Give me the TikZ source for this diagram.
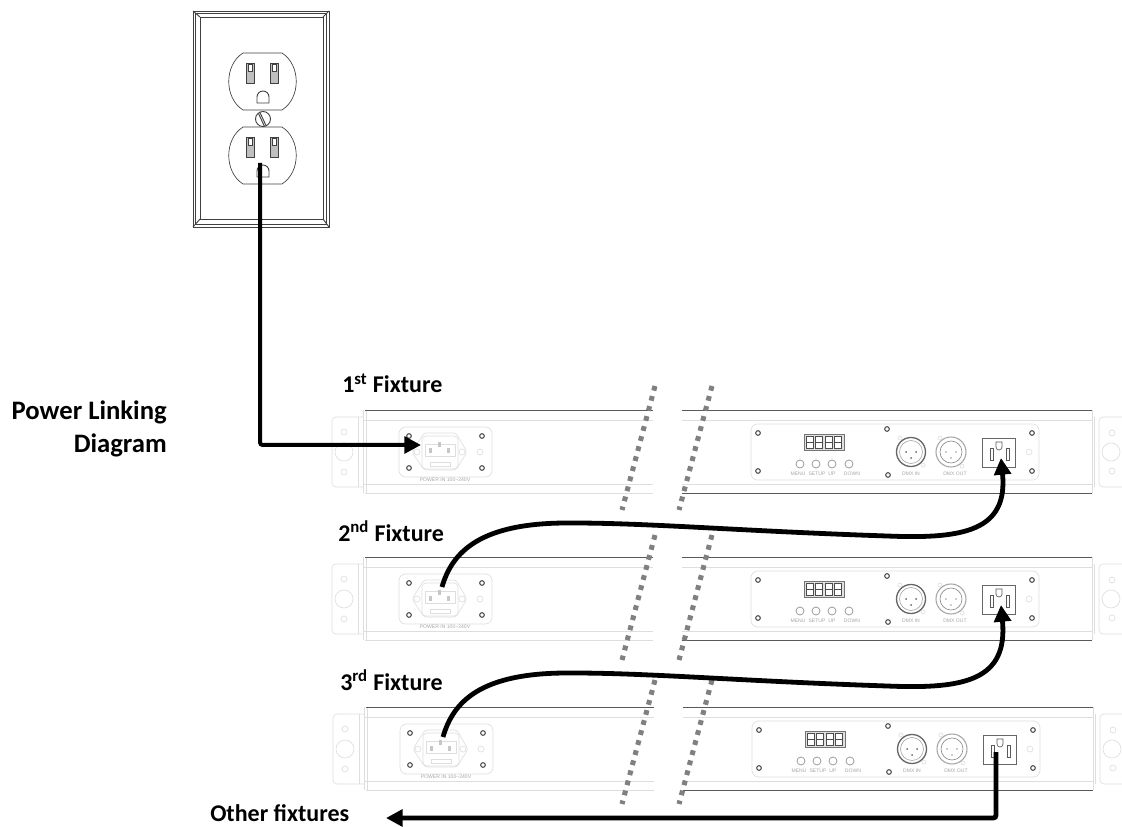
\documentclass[tikz,border=0pt]{standalone}
\usepackage{fontspec}
\setmainfont{Carlito}
\setsansfont{Liberation Sans}
\usetikzlibrary{arrows.meta}

\definecolor{faintgray}{gray}{0.87}
\definecolor{cutgray}{gray}{0.5}

\tikzset{
  title/.style={font=\bfseries\fontsize{20}{24.7}\selectfont, inner sep=0pt},
  caption/.style={font=\bfseries\fontsize{18}{20}\selectfont, inner sep=0pt},
  tiny/.style={font=\sffamily\fontsize{3.8}{4}\selectfont, text=black!35, inner sep=0pt},
  faint/.style={draw=faintgray, line width=0.5pt},
  body/.style={draw=black!65, line width=0.6pt},
  plate/.style={draw=black!75, line width=0.7pt},
  screw/.style={draw=black!70, line width=0.8pt, fill=white},
  cut/.style={draw=cutgray, line width=3.8pt, dash pattern=on 3.6pt off 4.2pt},
  wire/.style={draw=black, line width=3.6pt, rounded corners=2pt},
  arrow/.style={-{Triangle[length=12.5pt,width=12.5pt]}},
  fixture/.pic={
    % bars, cut open in the middle
    \draw[faint] (363,420) -- (653,420) (682,420) -- (1092,420);
    \draw[faint] (363,484) -- (653,484) (682,484) -- (1092,484);
    \draw[faint] (363,410) -- (363,493) (366,410) -- (366,493);
    \draw[faint] (1092,410) -- (1092,493) (1094,417) -- (1094,487);
    \draw[body] (365,410) -- (653,410) (682,410) -- (1092,410);
    \draw[faint] (365,493) -- (653,493);
    \draw[body] (682,493) -- (1092,493);
    % brackets
    \draw[faint,rounded corners=3pt] (363,417) -- (332,417) -- (332,487) -- (363,487);
    \draw[faint] (358,417) -- (358,487);
    \draw[faint] (344,432) circle (3);
    \draw[faint] (344,452) circle (9);
    \draw[faint] (344,472) circle (3);
    \draw[faint,rounded corners=3pt] (1122,417) -- (1099,417) -- (1099,487) -- (1122,487);
    \draw[faint] (1112,433) circle (3);
    \draw[faint] (1111,452) circle (9);
    \draw[faint] (1112,471) circle (3);
    % power in panel
    \draw[faint,rounded corners=5pt] (399,427) rectangle (492,477);
    \foreach \px/\py in {409/436,482/436,409/468,482/468}
      \draw[screw] (\px,\py) circle (2.3);
    \draw[faint] (480,452) circle (3);
    \draw[faint,rounded corners=2pt] (424,433) -- (456,433) -- (467,452) -- (456,470) -- (424,470) -- (412,452) -- cycle;
    \draw[faint,rounded corners=3pt] (422,436) rectangle (458,469);
    \draw[faint] (425,444) rectangle (455,456);
    \draw[faint] (430,462) rectangle (450,466);
    \foreach \px/\py in {439/445,430/451,448/451}
      \fill[black!22] (\px-1.5,\py-2.5) rectangle (\px+1.5,\py+2.5);
    \draw[faint] (417,452) circle (3) (462,452) circle (3);
    \node[tiny] (tagpower) at (445,480) {POWER IN 100\textasciitilde240V};
    % control panel
    \draw[faint,rounded corners=5pt] (751,424) rectangle (1039,480);
    \foreach \px/\py in {758/433,758/471,1032/433,1032/471,887/429,888/475}
      \draw[screw] (\px,\py) circle (2.3);
    \draw[faint] (1029,452) circle (3);
    \draw[draw=black!55,fill=black!12,line width=0.4pt] (804,434) rectangle (844,450);
    \foreach \dx in {0,1,2,3}
      \draw[draw=black!70,fill=white,line width=0.4pt] (806+\dx*9.4,436) rectangle (813+\dx*9.4,448) (806+\dx*9.4,442) -- (813+\dx*9.4,442);
    \foreach \bx in {800,816,832,849}
      \draw[draw=black!45,line width=0.5pt] (\bx,464) circle (4);
    \node[tiny] (tagmenu) at (798,474) {MENU};
    \node[tiny] (tagsetup) at (817,474) {SETUP};
    \node[tiny] (tagup) at (832,474) {UP};
    \node[tiny] (tagdown) at (852,474) {DOWN};
    % dmx sockets
    \draw[draw=black!60,line width=1pt] (911,452) circle (14.5);
    \draw[draw=black!40,line width=0.4pt] (911,452) circle (11.5);
    \foreach \px/\py in {906/452,916/452,911/458}
      \fill[black!60] (\px,\py) circle (1);
    \draw[draw=black!35,line width=0.8pt] (951,452) circle (15);
    \draw[draw=black!45,line width=0.5pt] (951,452) circle (11);
    \foreach \px/\py in {946/452,956/452,951/458}
      \fill[black!40] (\px,\py) circle (0.8);
    \foreach \px/\py in {900/438,923/465,940/438,962/466}
      \draw[faint] (\px,\py) circle (2);
    \node[tiny] (tagdmxin) at (911,474) {DMX IN};
    \node[tiny] (tagdmxout) at (955,474) {DMX OUT};
    % outlet
    \draw[draw=black!60,line width=0.6pt] (982,438) rectangle (1015,467);
    \draw[draw=black!65,line width=0.5pt] (990,448) rectangle (993,460) (1006,448) rectangle (1009,460);
    \draw[draw=black!65,line width=0.5pt] (996,442) -- (1002,442) -- (1002,447) arc (0:180:3) -- cycle;
    \coordinate (-in) at (442,440);
    \coordinate (-out) at (1001,458);
  }
}

\begin{document}
\begin{tikzpicture}[x=0.75pt,y=-0.75pt]
\useasboundingbox (0,0) rectangle (1122,827);

% wall outlet
\draw[plate] (193,11) rectangle (329,227);
\draw[plate] (195.5,13.5) rectangle (326.5,224.5);
\draw[plate] (200,17) rectangle (323,219);
\draw[plate] (193,11) -- (200,17) (329,11) -- (323,17) (193,227) -- (200,219) (329,227) -- (323,219);
\foreach \oy in {53,127}{
  \draw[plate,line width=0.5pt] (243,\oy) .. controls (224,\oy+12) and (224,\oy+45) .. (243,\oy+57)
    -- (282,\oy+57) .. controls (301,\oy+45) and (301,\oy+12) .. (282,\oy) -- cycle;
  \draw[plate,fill=black!25] (246,\oy+10) rectangle (254,\oy+30);
  \draw[plate,fill=black!25] (270,\oy+10) rectangle (278,\oy+30);
  \draw[plate,fill=white] (248,\oy+11) -- (252,\oy+11) -- (252,\oy+18) -- (248,\oy+18) -- cycle;
  \draw[plate,fill=white] (272,\oy+11) -- (276,\oy+11) -- (276,\oy+18) -- (272,\oy+18) -- cycle;
  \draw[plate] (257,\oy+50) -- (257,\oy+44) arc (180:360:6) -- (269,\oy+50) -- cycle;
}
\draw[plate,fill=white] (263,119) circle (7.5);
\draw[plate] (260,112.5) -- (266,125.5) (258.5,113.5) -- (264.5,126.5);

% fixtures
\pic (fixA) at (0,0) {fixture};
\pic (fixB) at (0,147) {fixture};
\pic (fixC) at (1,297) {fixture};

% break marks
\foreach \cy/\cz in {386/510,535/660,680/804}{
  \draw[cut] (655,\cy) -- (622,\cz);
  \draw[cut] (712,\cy) -- (679,\cz);
}

% labels
\node[title,align=right,anchor=north east] (titlenode) at (167,401) {Power Linking\\Diagram};
\node[caption,anchor=base west] (labelA) at (342,393) {1\textsuperscript{st} Fixture};
\node[caption,anchor=base west] (labelB) at (338,541) {2\textsuperscript{nd} Fixture};
\node[caption,anchor=base west] (labelC) at (340,690) {3\textsuperscript{rd} Fixture};
\node[caption,anchor=base west] (labelD) at (210,821) {Other fixtures};

% wiring
\coordinate (wallpin) at (260,163);
\coordinate (fixApower) at (421,445);
\coordinate (fixCdown) at (996,752);
\coordinate (othertip) at (386,818);
\draw[wire,arrow,line width=3pt] (wallpin) |- (fixApower);
\draw[wire,arrow] (fixB-in) .. controls +(10,-35) and +(-90,0) .. (570,523)
  .. controls (650,523) and (740,531) .. (887,536)
  .. controls (965,539) and (1008,530) .. (fixA-out);
\draw[wire,arrow] (fixC-in) .. controls +(10,-35) and +(-90,0) .. (570,673)
  .. controls (650,673) and (740,681) .. (887,686)
  .. controls (965,689) and (1008,680) .. (fixB-out);
\draw[wire,arrow] (fixCdown) |- (othertip);
\end{tikzpicture}
\end{document}
